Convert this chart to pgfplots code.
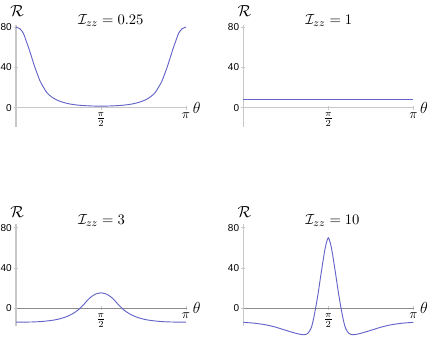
\documentclass[border=0pt]{standalone}
\usepackage{fontspec}
\setsansfont{Liberation Sans}
\usepackage{pgfplots}
\pgfplotsset{compat=1.18}
\definecolor{curve}{RGB}{100,100,200}
\definecolor{axgray}{RGB}{200,200,200}
\definecolor{axdark}{RGB}{140,140,140}
\pgfplotsset{
  rplot/.style={
    x=40.58pt, y=0.755pt,
    xmin=0, xmax=3.16,
    axis x line*=middle,
    axis y line*=left,
    anchor=south west,
    clip=false,
    xtick={1.5708,3.1416},
    xticklabels={$\frac{\pi}{2}$,$\pi$},
    ytick={0,40,80},
    yticklabels={0,40,80},
    yticklabel style={font=\sffamily\fontsize{7.5}{8}\selectfont, inner sep=1.5pt},
    xticklabel style={font=\normalsize, inner sep=2pt},
    tick align=center,
    major tick length=3pt,
    tick style={draw=axgray, line width=0.6pt},
    y axis line style={draw=axgray, line width=1.1pt},
  },
  topx/.style={x axis line style={draw=axgray, line width=1.1pt}, ymin=-19, ymax=82},
  botx/.style={x axis line style={draw=axdark, line width=0.6pt}, ymin=-18, ymax=84},
  curvestyle/.style={color=curve, line width=0.7pt, smooth, tension=0.5, no marks},
}
\newcommand{\decor}[1]{%
  \node[anchor=base] at (axis cs:0.02,90.5) {\large$\mathcal{R}$};
  \node at (axis cs:3.34,0) {\large$\theta$};
  \node[anchor=base west, font=\fontsize{11}{13}\selectfont] at (axis cs:1.06,83) {$\mathcal{I}_{zz} = #1$};
}
\begin{document}
\begin{tikzpicture}
\useasboundingbox (0,0) rectangle (324pt,253.5pt);
% top-left: I_zz = 0.25
\begin{axis}[rplot, topx, at={(12pt,158.4pt)}]
\addplot[curvestyle] coordinates {
 (0,80) (0.07,78.5) (0.135,74) (0.19,66) (0.23,60) (0.29,50) (0.35,40) (0.44,27)
 (0.50,21) (0.57,15) (0.65,11) (0.75,7.7) (0.87,5.3) (1.0,3.6) (1.15,2.5) (1.31,1.9)
 (1.45,1.6) (1.5708,1.5)
 (1.6916,1.6) (1.8316,1.9) (1.9916,2.5) (2.1416,3.6) (2.2716,5.3) (2.3916,7.7)
 (2.4916,11) (2.5716,15) (2.6416,21) (2.7016,27) (2.7916,40) (2.8516,50) (2.9116,60)
 (2.9516,66) (3.0066,74) (3.0716,78.5) (3.1416,80)
};
\decor{0.25}
\end{axis}
% top-right: I_zz = 1
\begin{axis}[rplot, topx, at={(182.5pt,158.4pt)}]
\addplot[color=curve, line width=0.7pt, no marks] coordinates {(0,8) (1.5708,8) (3.1416,8)};
\decor{1}
\end{axis}
% bottom-left: I_zz = 3
\begin{axis}[rplot, botx, at={(12pt,8.7pt)}]
\addplot[curvestyle] coordinates {
 (0,-13.8) (0.3,-13.6) (0.5,-13.0) (0.69,-11.8) (0.82,-10.3) (0.94,-8.2) (1.05,-5.3)
 (1.15,-1.6) (1.25,3.6) (1.33,8.5) (1.40,11.8) (1.48,14.3) (1.5708,15.3)
 (1.6616,14.3) (1.7416,11.8) (1.8116,8.5) (1.8916,3.6) (1.9916,-1.6) (2.0916,-5.3)
 (2.2016,-8.2) (2.3216,-10.3) (2.4516,-11.8) (2.6416,-13.0) (2.8416,-13.6) (3.1416,-13.8)
};
\decor{3}
\end{axis}
% bottom-right: I_zz = 10
\begin{axis}[rplot, botx, at={(182.5pt,8.7pt)}]
\addplot[curvestyle] coordinates {
 (0,-14) (0.2,-14.8) (0.42,-16.5) (0.6,-18.8) (0.73,-21) (0.87,-23.3) (0.98,-25)
 (1.11,-26.3) (1.19,-25) (1.25,-20) (1.29,-12.5) (1.335,0) (1.38,14) (1.43,32)
 (1.47,46) (1.50,56) (1.53,64) (1.5708,70)
 (1.6116,64) (1.6416,56) (1.6716,46) (1.7116,32) (1.7616,14) (1.8066,0) (1.8516,-12.5)
 (1.8916,-20) (1.9516,-25) (2.0316,-26.3) (2.1616,-25) (2.2716,-23.3) (2.4116,-21)
 (2.5416,-18.8) (2.7216,-16.5) (2.9416,-14.8) (3.1416,-14)
};
\decor{10}
\end{axis}
\end{tikzpicture}
\end{document}
